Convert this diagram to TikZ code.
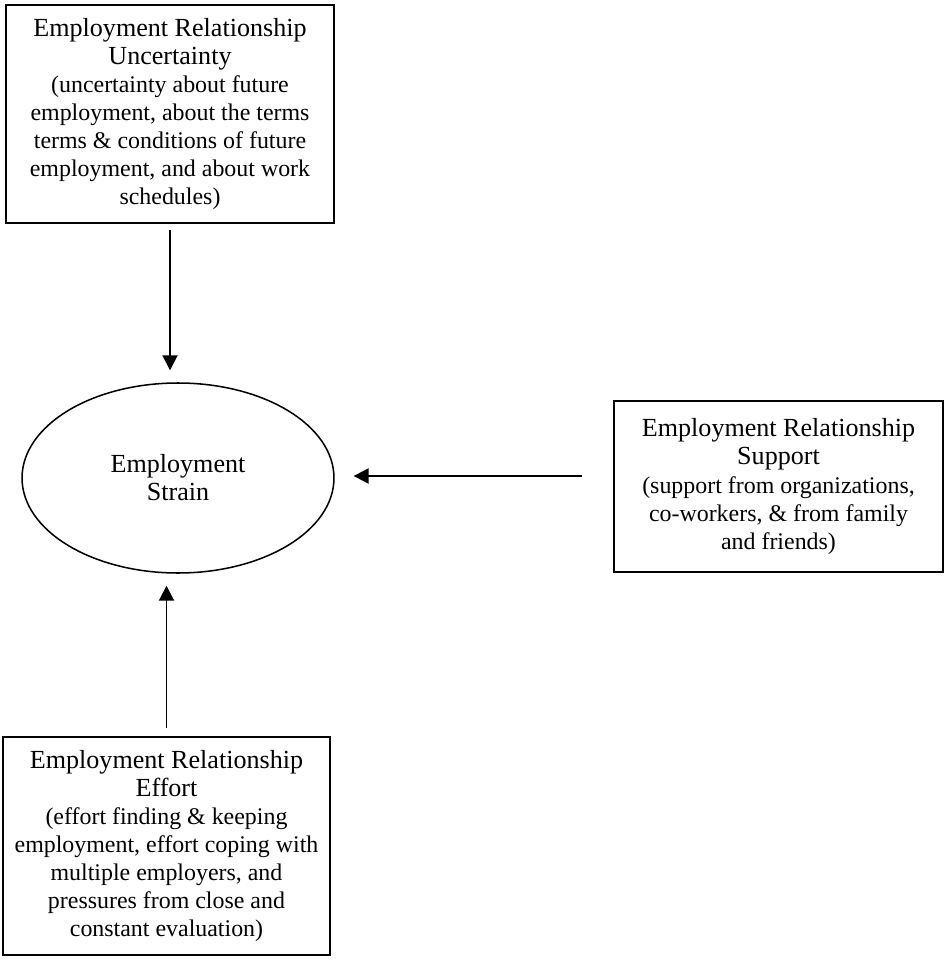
\documentclass[tikz,border=0pt]{standalone}
\usepackage{fontspec}
\setmainfont{Liberation Serif}
\usetikzlibrary{shapes.geometric,arrows.meta}

% texte des explications, un peu plus petit
\newcommand{\corps}{\fontsize{11}{12.9}\selectfont}

\begin{document}
\begin{tikzpicture}[x=0.46pt, y=-0.46pt,
    boite/.style={draw, line width=0.9pt, inner sep=0pt, align=center, font=\fontsize{12}{12.9}\selectfont},
    fleche/.style={line width=0.9pt, -{Triangle[length=6.9pt,width=6.9pt]}}]
    % Cadre
    \useasboundingbox (0,0) rectangle (948,962);

    % Ellipse centrale
    \node[boite, ellipse, line width=0.7pt, minimum width=143.5pt, minimum height=87.4pt] (strain) at (178,478) {Employment\\Strain};

    % Boites
    \node[boite, minimum width=150.9pt, minimum height=100.3pt] (uncertainty) at (170,114)
        {Employment Relationship\\Uncertainty\\\corps(uncertainty about future\\\corps employment, about the terms\\\corps terms \& conditions of future\\\corps employment, and about work\\\corps schedules)};
    \node[boite, minimum width=151.3pt, minimum height=78.7pt] (support) at (778.5,486.5)
        {Employment Relationship\\Support\\\corps(support from organizations,\\\corps co-workers, \& from family\\\corps and friends)};
    \node[boite, minimum width=150.4pt, minimum height=100.3pt] (effort) at (166.5,846)
        {Employment Relationship\\Effort\\\corps(effort finding \& keeping\\\corps employment, effort coping with\\\corps multiple employers, and\\\corps pressures from close and\\\corps constant evaluation)};

    % Fleches
    \draw[fleche, shorten <=2.8pt, shorten >=5.5pt] (uncertainty.south) -- (uncertainty.south |- strain.north);
    \draw[fleche, shorten <=14.3pt, shorten >=8.7pt] ([yshift=4.83pt]support.west) -- ([yshift=0.92pt]strain.east);
    \draw[fleche, shorten <=3.7pt, shorten >=5.5pt] (effort.north) -- (effort.north |- strain.south);

\end{tikzpicture}
\end{document}
